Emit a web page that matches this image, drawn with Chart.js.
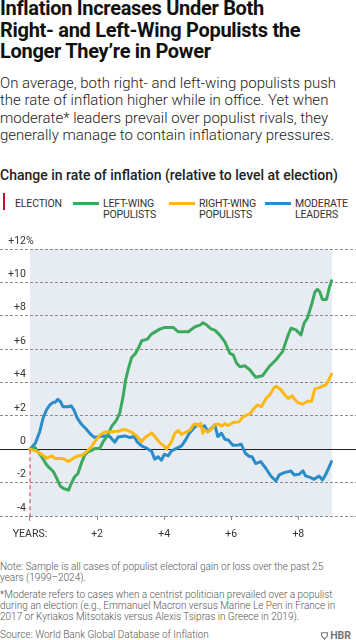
<!DOCTYPE html>
<html><head><meta charset="utf-8">
<script src="https://cdn.jsdelivr.net/npm/chart.js@4.4.1/dist/chart.umd.min.js"></script>
<style>
html,body{margin:0;padding:0;background:#fff;}
body{width:356px;height:640px;position:relative;overflow:hidden;font-family:Roboto,"Noto Sans",sans-serif;color:#1a1a1a;}
.title{position:absolute;left:0;top:-2px;font-weight:700;font-size:20px;line-height:21.5px;white-space:nowrap;color:#111;letter-spacing:-0.3px;}
.sub{position:absolute;left:0;top:75px;font-weight:300;font-size:15px;line-height:17.3px;white-space:nowrap;color:#222;}
.ctitle{position:absolute;left:0;top:166px;font-weight:500;font-size:14px;line-height:18px;white-space:nowrap;color:#222;}
.leg{position:absolute;top:197.5px;font-family:Roboto,sans-serif;font-size:10.5px;line-height:11.7px;color:#333;white-space:nowrap;letter-spacing:-0.15px;}
.sw{position:absolute;top:202px;height:3px;width:26px;}
.notes{position:absolute;left:0;top:562px;font-weight:300;font-size:10px;line-height:10.7px;color:#555;white-space:nowrap;}
.notes p{margin:0 0 7px 0;}
.hbr{position:absolute;right:5px;top:629px;font-weight:700;font-size:10.5px;color:#777;}
canvas{position:absolute;left:0;top:226px;}
</style></head>
<body>
<div class="title">Inflation Increases Under Both<br>Right- and Left-Wing Populists the<br>Longer They’re in Power</div>
<div class="sub">On average, both right- and left-wing populists push<br>the rate of inflation higher while in office. Yet when<br>moderate* leaders prevail over populist rivals, they<br>generally manage to contain inflationary pressures.</div>
<div class="ctitle">Change in rate of inflation (relative to level at election)</div>

<div style="position:absolute;left:3px;top:193px;width:2px;height:17px;background:#C8102E"></div>
<div class="leg" style="left:15px">ELECTION</div>
<div class="sw" style="left:73px;background:#3BAA5E"></div>
<div class="leg" style="left:103px">LEFT-WING<br>POPULISTS</div>
<div class="sw" style="left:169px;background:#FDB913"></div>
<div class="leg" style="left:199px">RIGHT-WING<br>POPULISTS</div>
<div class="sw" style="left:265px;background:#2A8CC8"></div>
<div class="leg" style="left:295px">MODERATE<br>LEADERS</div>

<canvas id="c" width="356" height="314"></canvas>

<div class="notes">
<p>Note: Sample is all cases of populist electoral gain or loss over the past 25<br>years (1999–2024).</p>
<p>*Moderate refers to cases when a centrist politician prevailed over a populist<br>during an election (e.g., Emmanuel Macron versus Marine Le Pen in France in<br>2017 or Kyriakos Mitsotakis versus Alexis Tsipras in Greece in 2019).</p>
<p>Source: World Bank Global Database of Inflation</p>
</div>
<div class="hbr"><svg width="7" height="8" viewBox="0 0 7 8" style="vertical-align:-1px;margin-right:2px"><path d="M0.6 0.8 H6.4 V3.8 L3.5 7.2 L0.6 3.8 Z" fill="none" stroke="#777" stroke-width="1.1"/></svg>HBR</div>

<script>
// ---- data (years since election, change in inflation rate, pct points) ----
const leftYears  = [0,0.15,0.35,0.5,0.7,0.8,0.9,1.0,1.15,1.22,1.33,1.43,1.53,1.63,1.73,1.85,1.95,2.08,2.18,2.32,2.43,2.58,2.68,2.78,2.85,2.93,3.03,3.13,3.23,3.33,3.5,3.62,3.87,4.02,4.27,4.42,4.72,4.92,5.07,5.16,5.27,5.41,5.51,5.66,5.81,5.96,6.06,6.16,6.26,6.41,6.56,6.73,6.93,7.13,7.33,7.53,7.68,7.78,7.93,8.08,8.17,8.27,8.42,8.5,8.57,8.64,8.72,8.84,8.92,8.99];
const leftValues = [0,0.1,-0.45,-0.95,-1.35,-1.75,-2.2,-2.35,-2.45,-2.1,-1.65,-1.45,-0.85,-0.35,-0.15,-0.05,0.05,0.05,0.45,0.85,1.35,1.75,2.2,3.2,4.15,4.8,5.5,5.7,6.05,6.5,6.6,6.9,7.2,7.3,7.3,7.04,7.04,7.34,7.44,7.58,7.44,7.2,7.14,6.84,6.44,5.75,5.65,5.15,4.95,5.0,4.75,4.31,4.4,4.95,5.35,5.85,6.75,7.25,7.15,6.85,7.55,7.85,8.84,9.44,9.58,9.44,8.98,8.98,9.64,10.1];

const rightYears  = [0,0.14,0.3,0.5,0.65,0.74,0.94,1.03,1.15,1.28,1.43,1.58,1.73,1.85,1.98,2.12,2.23,2.43,2.63,2.78,2.88,3.03,3.18,3.33,3.44,3.63,3.74,3.87,4.02,4.07,4.22,4.32,4.42,4.52,4.62,4.77,4.87,4.95,5.01,5.09,5.15,5.21,5.31,5.41,5.51,5.61,5.71,5.81,5.91,6.06,6.23,6.36,6.47,6.58,6.65,6.78,6.9,7.04,7.17,7.26,7.34,7.49,7.6,7.7,7.82,7.96,8.12,8.28,8.4,8.49,8.61,8.72,8.82,8.88,8.99];
const rightValues = [0,-0.08,-0.24,-0.54,-0.4,-0.55,-0.55,-0.6,-0.74,-0.55,-0.4,-0.34,-0.06,0.2,0.6,0.9,1.04,1.05,1.08,1.18,1.15,1.02,0.8,0.46,0.72,0.98,0.72,0.4,0.16,0.0,0.46,0.96,1.12,0.88,1.0,1.15,1.46,1.52,1.4,1.56,0.96,1.15,1.05,1.2,1.46,1.52,1.4,1.52,1.42,1.6,1.64,1.96,2.06,2.15,2.38,2.65,2.55,3.05,3.3,3.65,3.78,3.55,3.25,3.05,3.2,2.82,2.7,2.88,2.88,3.62,3.68,3.78,3.85,4.05,4.5];

const modYears  = [0,0.16,0.29,0.39,0.49,0.59,0.69,0.75,0.83,0.91,0.98,1.13,1.23,1.31,1.41,1.53,1.68,1.83,1.93,2.08,2.23,2.38,2.53,2.63,2.83,2.98,3.1,3.19,3.33,3.48,3.63,3.72,3.82,3.92,4.01,4.12,4.22,4.37,4.52,4.62,4.75,4.92,5.01,5.13,5.21,5.3,5.41,5.51,5.6,5.71,5.81,5.91,6.05,6.21,6.3,6.42,6.53,6.62,6.73,6.88,7.03,7.18,7.33,7.43,7.58,7.78,7.88,8.02,8.14,8.22,8.37,8.47,8.62,8.72,8.82,8.99];
const modValues = [0,0.36,1.05,1.86,2.35,2.65,2.81,2.81,2.99,2.85,2.55,2.55,2.6,2.35,1.86,1.51,1.2,0.86,0.7,0.76,0.8,0.76,0.42,0.74,0.8,0.7,0.78,0.46,0.2,0.06,-0.14,-0.6,-0.45,-0.65,-0.3,-0.4,-0.1,0.05,0.2,0.5,0.96,1.35,1.46,1.36,1.4,1.05,1.25,1.46,0.76,0.96,0.6,0.56,0.24,0.26,0.3,-0.24,-0.42,-0.45,-0.86,-0.74,-1.14,-1.6,-1.9,-1.54,-1.4,-1.3,-1.54,-1.5,-1.3,-1.6,-1.7,-1.8,-1.6,-1.84,-1.5,-0.74];

const xTickValues = [0,2,4,6,8];
const xTickLabels = ["YEARS:","+2","+4","+6","+8"];
const yTickValues = [-4,-2,0,2,4,6,8,10,12];
const yTickLabels = ["-4","-2","0","+2","+4","+6","+8","+10","+12%"];
const electionYear = 0;
const periodEnd = 9;

function pts(xs, ys){ return xs.map((x,i)=>({x:x, y:ys[i]})); }

const FONT = 'Roboto, sans-serif';
const TICK_SIZE = 10.5;
const GREEN='#3BAA5E', YELLOW='#FDB913', BLUE='#2A8CC8';

// y labels: numbers right-aligned at x=26, the "%" of the top label hangs past it
const mctx = document.createElement('canvas').getContext('2d');
mctx.font = TICK_SIZE + 'px ' + FONT;
const pctW = mctx.measureText('%').width, spW = mctx.measureText(' ').width;
const padSpaces = ' '.repeat(Math.max(0, Math.round(pctW / spW)));
const yLabelText = yTickLabels.map(t => t.endsWith('%') ? t : t + padSpaces);
const widest = Math.max(...yLabelText.map(t=>mctx.measureText(t).width));
const yLabelRight = 26 + pctW;

const bgPlugin = {
  id:'bg',
  beforeDraw(chart){
    const {ctx, scales:{x,y}} = chart;
    const x0=x.getPixelForValue(electionYear), x1=x.getPixelForValue(periodEnd);
    const y0=y.getPixelForValue(y.max), y1=y.getPixelForValue(y.min);
    ctx.save(); ctx.fillStyle='#E7EBF2'; ctx.fillRect(x0,y0,x1-x0,y1-y0); ctx.restore();
  },
  afterDraw(chart){
    const {ctx, scales:{x,y}} = chart;
    const px=x.getPixelForValue(electionYear);
    ctx.save(); ctx.strokeStyle='rgba(214,60,70,0.7)'; ctx.lineWidth=1.5; ctx.setLineDash([4,3]);
    ctx.beginPath(); ctx.moveTo(px, y.getPixelForValue(0)+1); ctx.lineTo(px, y.getPixelForValue(y.min)+5); ctx.stroke(); ctx.restore();
  }
};

const ds = (label, data, color) => ({label, data, borderColor:color, borderWidth:3, pointRadius:0, tension:0, borderJoinStyle:'round', borderCapStyle:'round', fill:false});

new Chart(document.getElementById('c'), {
  type:'line',
  data:{ datasets:[
    ds('Right-wing populists', pts(rightYears,rightValues), YELLOW),
    ds('Left-wing populists', pts(leftYears,leftValues), GREEN),
    ds('Moderate leaders', pts(modYears,modValues), BLUE)
  ]},
  options:{
    responsive:false, animation:false, devicePixelRatio:1,
    layout:{padding:{top:23,left:0,right:0,bottom:0}},
    plugins:{legend:{display:false}, tooltip:{enabled:false}},
    scales:{
      x:{type:'linear', min:-0.894, max:9.72,
        afterBuildTicks:(s)=>{ s.ticks = xTickValues.map(v=>({value:v})); },
        afterFit:(s)=>{ s.height = 24; },
        grid:{display:true, drawOnChartArea:false, drawTicks:true, tickLength:4, tickColor:'#888', tickWidth:1},
        border:{display:false},
        ticks:{font:{family:FONT,size:TICK_SIZE}, color:'#333', padding:8, maxRotation:0, autoSkip:false,
          callback:(v)=>{ const i=xTickValues.indexOf(v); return i>=0?xTickLabels[i]:''; }}
      },
      y:{type:'linear', min:-4, max:12,
        afterBuildTicks:(s)=>{ s.ticks = yTickValues.map(v=>({value:v})); },
        afterFit:(s)=>{ s.width = 0; },
        grid:{drawTicks:false, color:(c)=> (c.tick && c.tick.value===0) ? '#222' : '#8a8a8a', lineWidth:1},
        border:{display:false, dash:(c)=> (c.tick && c.tick.value===0) ? [] : [3,2]},
        ticks:{font:{family:FONT,size:TICK_SIZE}, color:'#333', mirror:true, crossAlign:'far',
          padding: yLabelRight - widest, labelOffset:-8,
          callback:(v)=>{ const i=yTickValues.indexOf(v); return i>=0?yLabelText[i]:''; }}
      }
    }
  },
  plugins:[bgPlugin]
});
</script>
</body></html>
